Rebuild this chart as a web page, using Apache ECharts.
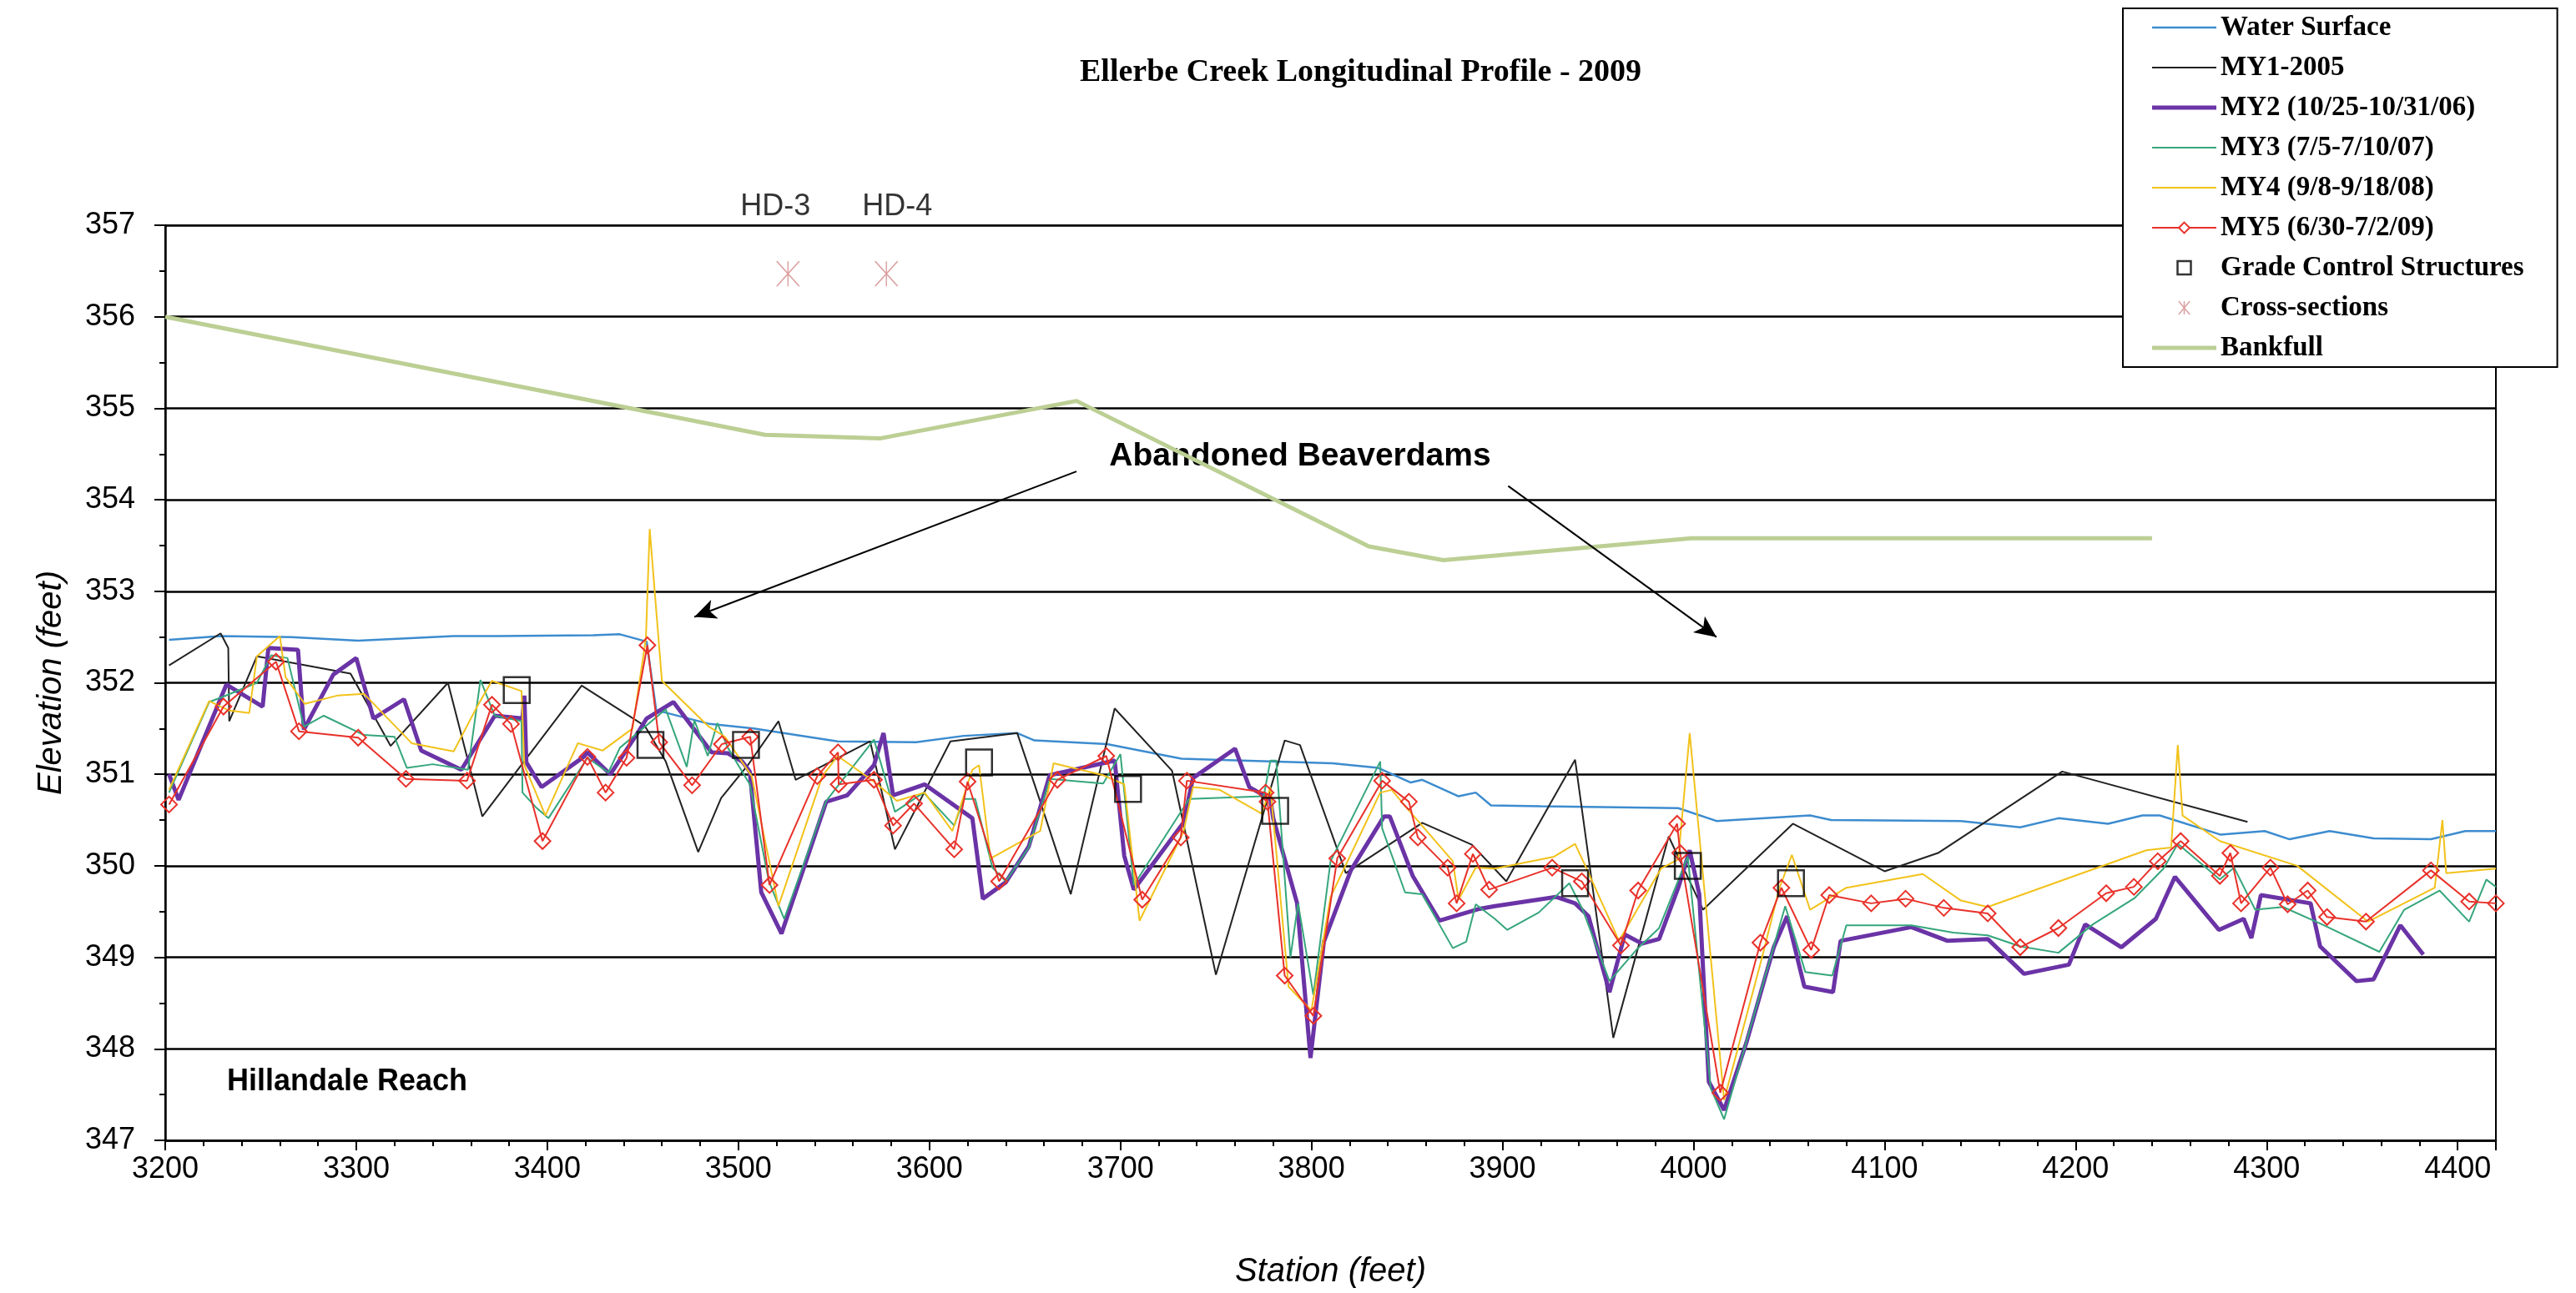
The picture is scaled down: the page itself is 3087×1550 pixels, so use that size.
<!DOCTYPE html>
<html>
<head>
<meta charset="utf-8">
<title>Ellerbe Creek Longitudinal Profile - 2009</title>
<script src="https://cdn.jsdelivr.net/npm/echarts@6.0.0/dist/echarts.min.js"></script>
<style>
  html, body { margin: 0; padding: 0; background: #fff; }
  #main { width: 3087px; height: 1550px; }
</style>
</head>
<body>
<div id="main"></div>
<script>
// station (feet), elevation (feet)
var waterSurface = [
  [3202, 352.47], [3229, 352.51], [3266, 352.50], [3301, 352.46], [3351, 352.51], [3374, 352.51],
  [3424, 352.52], [3438, 352.53], [3452, 352.45], [3457, 351.70], [3485, 351.55], [3508, 351.50],
  [3552, 351.36], [3593, 351.35], [3618, 351.42], [3646, 351.45], [3655, 351.37], [3693, 351.33],
  [3732, 351.17], [3764, 351.15], [3811, 351.12], [3835, 351.07], [3852, 350.91], [3858, 350.94],
  [3877, 350.76], [3886, 350.80], [3894, 350.66], [3920, 350.65], [3992, 350.63], [4012, 350.49],
  [4061, 350.55], [4072, 350.50], [4140, 350.49], [4171, 350.42], [4191, 350.52], [4217, 350.46],
  [4235, 350.55], [4244, 350.55], [4276, 350.34], [4299, 350.38], [4312, 350.29], [4333, 350.38],
  [4356, 350.30], [4386, 350.29], [4404, 350.38], [4420, 350.38]
];

var my1 = [
  [3202, 352.19], [3229, 352.54], [3233, 352.38], [3233.5, 351.58], [3248, 352.29], [3297, 352.10],
  [3318, 351.31], [3348, 352.00], [3366, 350.54], [3418, 351.97], [3451, 351.53], [3462, 351.14],
  [3479, 350.15], [3491, 350.74], [3505, 351.10], [3521, 351.58], [3530, 350.94], [3569, 351.36],
  [3582, 350.18], [3611, 351.36], [3646, 351.45], [3656, 350.83], [3674, 349.69], [3697, 351.72],
  [3727, 351.04], [3750, 348.81], [3786, 351.37], [3794, 351.32], [3818, 349.92], [3858, 350.47],
  [3884, 350.23], [3902, 349.83], [3938, 351.16], [3958, 348.12], [3987, 350.32], [4005, 349.52],
  [4052, 350.46], [4100, 349.94], [4128, 350.14], [4193, 351.03], [4290, 350.48]
];

var my2 = [
  [3202, 351.00], [3207, 350.72], [3232, 351.98], [3251, 351.74], [3254, 352.38], [3269.5, 352.36],
  [3272.6, 351.49], [3288, 352.09], [3300, 352.27], [3309, 351.61], [3325, 351.82], [3334, 351.26],
  [3355, 351.05], [3372.5, 351.64], [3387, 351.61], [3388, 351.86], [3389, 351.13], [3397, 350.86],
  [3419, 351.19], [3421, 351.24], [3433, 351.00], [3446, 351.41], [3452, 351.61], [3466, 351.79],
  [3486, 351.24], [3494.5, 351.23], [3502, 351.14], [3506, 351.03], [3512, 349.71], [3522.6, 349.26],
  [3546, 350.70], [3557, 350.77], [3571, 351.10], [3576, 351.45], [3581, 350.77], [3597.5, 350.89],
  [3622.5, 350.52], [3628, 349.64], [3640, 349.82], [3652, 350.21], [3663, 350.99], [3697, 351.15],
  [3702, 350.11], [3707, 349.74], [3733, 350.47], [3738, 350.96], [3760, 351.28], [3767.5, 350.86],
  [3778.5, 350.73], [3780, 350.52], [3792.5, 349.59], [3799.5, 347.90], [3806.5, 349.17], [3820.6, 349.95],
  [3838, 350.54], [3841, 350.54], [3853, 349.89], [3867, 349.40], [3888, 349.53], [3896, 349.56],
  [3928, 349.66], [3938, 349.59], [3945, 349.45], [3956, 348.62], [3964, 349.25], [3973, 349.15],
  [3982, 349.20], [3992, 349.76], [3998, 350.17], [4003, 349.69], [4008, 347.64], [4016, 347.33],
  [4028, 348.09], [4042, 349.11], [4049, 349.45], [4058, 348.68], [4073, 348.62], [4077, 349.18],
  [4114, 349.33], [4133, 349.18], [4154, 349.20], [4173, 348.82], [4196.5, 348.92], [4205, 349.36],
  [4224, 349.11], [4242, 349.42], [4252, 349.88], [4275, 349.30], [4288, 349.42], [4292, 349.21],
  [4297, 349.68], [4323, 349.59], [4328, 349.12], [4347, 348.74], [4356, 348.76], [4370, 349.35],
  [4382, 349.03]
];

var my3 = [
  [3202, 350.80], [3223, 351.79], [3230.5, 351.85], [3248, 352.00], [3255.5, 352.30], [3264, 352.27],
  [3272.6, 351.52], [3283, 351.64], [3304, 351.43], [3320, 351.41], [3326.5, 351.07], [3340, 351.11],
  [3358.5, 351.05], [3365, 352.03], [3372.5, 351.64], [3386.5, 351.58], [3387, 350.80], [3394, 350.64],
  [3400.6, 350.52], [3421, 351.18], [3432, 351.02], [3438, 351.29], [3462, 351.71], [3473, 351.08],
  [3477, 351.59], [3484, 351.20], [3489, 351.56], [3494.5, 351.29], [3506, 350.89], [3516, 349.83],
  [3524, 349.42], [3546, 350.71], [3571, 351.38], [3582, 350.59], [3597, 350.80], [3613, 350.44],
  [3618, 350.73], [3624, 350.73], [3633, 349.98], [3640, 349.83], [3652, 350.20], [3663, 350.95],
  [3691, 350.90], [3700, 351.22], [3707, 349.79], [3736, 350.73], [3775, 350.76], [3778.5, 351.15],
  [3781.6, 351.15], [3789, 349.00], [3793, 349.59], [3801, 348.59], [3810, 350.05], [3836, 351.14],
  [3837, 350.41], [3849, 349.71], [3858, 349.69], [3874, 349.10], [3881, 349.17], [3886, 349.58],
  [3896, 349.42], [3902.5, 349.30], [3919, 349.49], [3935, 349.81], [3942, 349.52], [3956, 348.74],
  [3970, 349.08], [3982, 349.32], [3997, 350.10], [4009, 347.57], [4016, 347.23], [4048, 349.56],
  [4058.5, 348.84], [4072.6, 348.80], [4080, 349.35], [4114, 349.35], [4136, 349.27], [4154, 349.24],
  [4171, 349.12], [4191, 349.05], [4209, 349.36], [4231, 349.65], [4246, 349.97], [4253.5, 350.24],
  [4275.5, 349.85], [4283, 349.98], [4294, 349.52], [4308.6, 349.55], [4329, 349.36], [4359, 349.06],
  [4372, 349.52], [4390.5, 349.73], [4406, 349.39], [4415, 349.85], [4420, 349.77]
];

var my4 = [
  [3202, 350.83], [3223, 351.80], [3233, 351.70], [3244, 351.67], [3248, 352.29], [3260, 352.51],
  [3263, 352.06], [3273, 351.77], [3290, 351.86], [3304, 351.88], [3329, 351.34], [3351, 351.25],
  [3363, 351.73], [3371, 352.02], [3386.5, 351.91], [3388, 351.10], [3399, 350.55], [3416, 351.34],
  [3429, 351.26], [3444.6, 351.50], [3451.6, 352.48], [3453.6, 353.68], [3460, 352.02], [3484, 351.53],
  [3493, 351.41], [3507, 350.98], [3521, 349.56], [3544, 350.98], [3552, 351.20], [3571, 350.92],
  [3583, 350.71], [3597.5, 350.80], [3612, 350.38], [3622.5, 351.05], [3626, 351.10], [3632, 350.08],
  [3658, 350.38], [3665, 351.12], [3691, 350.99], [3702, 350.89], [3710, 349.40], [3733, 350.37],
  [3738, 350.86], [3752, 350.83], [3774, 350.57], [3778.5, 350.86], [3788, 348.68], [3800, 348.42],
  [3810, 349.66], [3836, 350.80], [3842, 350.83], [3850, 350.63], [3874, 350.05], [3877, 349.63],
  [3886, 349.98], [3896, 349.97], [3927, 350.10], [3938, 350.24], [3944, 349.97], [3961, 349.18],
  [3983, 349.97], [3992, 350.07], [3998, 351.45], [4016, 347.44], [4036, 349.01], [4045, 349.76],
  [4051.5, 350.12], [4061, 349.52], [4080, 349.76], [4120, 349.91], [4140, 349.62], [4154, 349.55],
  [4237, 350.17], [4250, 350.20], [4253.5, 351.32], [4256, 350.55], [4275.5, 350.27], [4316, 350.00],
  [4353, 349.39], [4388, 349.76], [4392, 350.50], [4394, 349.92], [4420, 349.97]
];

var my5 = [
  [3202, 350.67], [3230.5, 351.74], [3258, 352.23], [3270, 351.47], [3301, 351.40], [3326, 350.95],
  [3358, 350.93], [3371, 351.76], [3381, 351.55], [3397.5, 350.27], [3421, 351.19], [3430.5, 350.80],
  [3441.5, 351.18], [3452.4, 352.41], [3458.6, 351.35], [3475.8, 350.88], [3491.4, 351.33], [3506.2, 351.41],
  [3516.3, 349.79], [3541.3, 350.98], [3552.2, 351.24], [3552.5, 350.89], [3571, 350.94], [3581, 350.44],
  [3592, 350.68], [3613, 350.18], [3620, 350.92], [3636.5, 349.83], [3667, 350.94], [3692.6, 351.20],
  [3711.4, 349.63], [3731.6, 350.31], [3734.8, 350.93], [3776, 350.80], [3777, 350.70], [3786, 348.80],
  [3801, 348.36], [3813.5, 350.08], [3837, 350.93], [3851, 350.70], [3855.7, 350.31], [3871.3, 349.98],
  [3876, 349.59], [3884.5, 350.13], [3893, 349.74], [3926, 349.98], [3941.5, 349.83], [3962, 349.13],
  [3971, 349.73], [3991.4, 350.46], [3993, 350.14], [4014, 347.52], [4035, 349.16], [4046, 349.76],
  [4061.6, 349.08], [4071, 349.68], [4093, 349.59], [4111, 349.64], [4131, 349.54], [4154, 349.48],
  [4171, 349.11], [4191, 349.32], [4216, 349.70], [4230.5, 349.77], [4243, 350.05], [4255, 350.27],
  [4275.5, 349.89], [4281, 350.14], [4286.6, 349.59], [4302, 349.98], [4311, 349.58], [4321.5, 349.73],
  [4331.6, 349.44], [4352, 349.39], [4386, 349.95], [4406, 349.61], [4420, 349.59]
];

var gradeControl = [
  [3384, 351.92], [3454, 351.32], [3504, 351.32], [3626, 351.13], [3704, 350.84],
  [3781, 350.60], [3938, 349.81], [3997, 350.00], [4051, 349.81]
];

var crossSections = [[3526, 356.47], [3577.5, 356.47]];
var crossLabels = ['HD-3', 'HD-4'];

var bankfull = [
  [3200, 356.00], [3514, 354.71], [3574, 354.67], [3677, 355.08],
  [3830, 353.49], [3869, 353.34], [3999, 353.58], [4240, 353.58]
];

// arrows for the beaverdam note: [from, to]
var beaverdamArrows = [
  [[3677, 354.31], [3477, 352.72]],
  [[3903, 354.15], [4012, 352.50]]
];

var names = [
  'Water Surface', 'MY1-2005', 'MY2 (10/25-10/31/06)', 'MY3 (7/5-7/10/07)', 'MY4 (9/8-9/18/08)',
  'MY5 (6/30-7/2/09)', 'Grade Control Structures', 'Cross-sections', 'Bankfull'
];

var SANS = 'Liberation Sans, Arial, sans-serif';
var SERIF = 'Liberation Serif, Times New Roman, serif';
var STAR = 'path://M0,0L10,12M10,0L0,12M5,0L5,12';
var SQUARE = 'path://M0,0L10,0L10,10L0,10Z';
var RED = '#e8312a';
var PINK = '#d28888';
var colors = ['#3d8ccf', '#222222', '#6a33a6', '#36a67c', '#f2c21b', RED, '#000', PINK, '#bccf94'];

// flat bar used as a plain line icon in the legend
function lineIcon(h) {
  return 'path://M0,0L77,0L77,' + h + 'L0,' + h + 'Z';
}

function lineSeries(name, data, color, width, z) {
  return {
    name: name,
    type: 'line',
    data: data,
    symbol: 'none',
    z: z,
    lineStyle: { color: color, width: width },
    itemStyle: { color: color },
    silent: true
  };
}

var chartDom = document.getElementById('main');
var myChart = echarts.init(chartDom, null, { renderer: 'canvas' });
var option;

option = {
  animation: false,
  backgroundColor: '#fff',
  title: {
    text: 'Ellerbe Creek Longitudinal Profile - 2009',
    left: 1294,
    top: 68,
    padding: 0,
    textStyle: { fontFamily: SERIF, fontWeight: 'bold', fontSize: 38, color: '#000' }
  },
  legend: {
    orient: 'vertical',
    left: 2544,
    top: 10,
    padding: [5, 40, 5, 34],
    itemWidth: 77,
    itemHeight: 16,
    itemGap: 12,
    borderColor: '#000',
    borderWidth: 2,
    backgroundColor: '#fff',
    selectedMode: false,
    textStyle: { fontFamily: SERIF, fontWeight: 'bold', fontSize: 33, lineHeight: 36, color: '#000' },
    data: [
      { name: names[0], icon: lineIcon(2.5), itemStyle: { color: colors[0], borderWidth: 0 } },
      { name: names[1], icon: lineIcon(2), itemStyle: { color: colors[1], borderWidth: 0 } },
      { name: names[2], icon: lineIcon(5), itemStyle: { color: colors[2], borderWidth: 0 } },
      { name: names[3], icon: lineIcon(2), itemStyle: { color: colors[3], borderWidth: 0 } },
      { name: names[4], icon: lineIcon(2), itemStyle: { color: colors[4], borderWidth: 0 } },
      { name: names[5], lineStyle: { width: 2, color: RED }, itemStyle: { color: '#fff', borderColor: RED, borderWidth: 2 } },
      { name: names[6], icon: SQUARE, itemStyle: { color: 'rgba(0,0,0,0)', borderColor: '#000', borderWidth: 2.5 } },
      { name: names[7], icon: STAR, itemStyle: { color: 'rgba(0,0,0,0)', borderColor: PINK, borderWidth: 1.5 } },
      { name: names[8], icon: lineIcon(5), itemStyle: { color: colors[8], borderWidth: 0 } }
    ]
  },
  grid: {
    left: 198,
    right: 96,
    top: 270,
    bottom: 182,
    show: true,
    borderColor: '#000',
    borderWidth: 2,
    backgroundColor: 'rgba(0,0,0,0)'
  },
  xAxis: {
    type: 'value',
    min: 3200,
    max: 4420,
    interval: 100,
    name: 'Station (feet)',
    nameLocation: 'middle',
    nameGap: 138,
    nameTextStyle: { fontFamily: SANS, fontStyle: 'italic', fontSize: 40, color: '#000' },
    axisLine: { show: true, onZero: false, lineStyle: { color: '#000', width: 2.5 } },
    axisTick: { show: true, length: 12, lineStyle: { color: '#000', width: 2 } },
    minorTick: { show: true, splitNumber: 5, length: 7, lineStyle: { color: '#000', width: 2 } },
    splitLine: { show: false },
    axisLabel: {
      showMaxLabel: false,
      margin: 17,
      fontFamily: SANS,
      fontSize: 36,
      color: '#000',
      formatter: function (v) { return String(v); }
    }
  },
  yAxis: {
    type: 'value',
    min: 347,
    max: 357,
    interval: 1,
    name: 'Elevation (feet)',
    nameLocation: 'middle',
    nameGap: 116,
    nameTextStyle: { fontFamily: SANS, fontStyle: 'italic', fontSize: 40, color: '#000' },
    axisLine: { show: true, lineStyle: { color: '#000', width: 2.5 } },
    axisTick: { show: true, length: 13, lineStyle: { color: '#000', width: 2 } },
    minorTick: { show: true, splitNumber: 2, length: 7, lineStyle: { color: '#000', width: 2 } },
    splitLine: { show: true, lineStyle: { color: '#000', width: 2.5 } },
    axisLabel: { margin: 36, fontFamily: SANS, fontSize: 36, color: '#000' }
  },
  graphic: [
    {
      type: 'text',
      x: 1558,
      y: 547,
      style: {
        text: 'Abandoned Beaverdams',
        font: 'bold 39px ' + SANS,
        fill: '#000',
        align: 'center',
        verticalAlign: 'middle',
        textAlign: 'center',
        textVerticalAlign: 'middle'
      }
    },
    {
      type: 'text',
      x: 272,
      y: 1297,
      style: {
        text: 'Hillandale Reach',
        font: 'bold 36px ' + SANS,
        fill: '#000',
        align: 'left',
        verticalAlign: 'middle',
        textAlign: 'left',
        textVerticalAlign: 'middle'
      }
    }
  ],
  series: [
    lineSeries(names[0], waterSurface, colors[0], 2.5, 2),
    lineSeries(names[1], my1, colors[1], 2, 2),
    lineSeries(names[2], my2, colors[2], 5, 2),
    lineSeries(names[3], my3, colors[3], 2, 2),
    lineSeries(names[4], my4, colors[4], 2, 2),
    {
      name: names[5],
      type: 'line',
      data: my5,
      symbol: 'diamond',
      symbolSize: 19,
      showAllSymbol: true,
      z: 3,
      silent: true,
      lineStyle: { color: RED, width: 2 },
      itemStyle: { color: 'rgba(0,0,0,0)', borderColor: RED, borderWidth: 2 }
    },
    {
      name: names[6],
      type: 'scatter',
      data: gradeControl,
      symbol: 'rect',
      symbolSize: 31,
      z: 4,
      silent: true,
      itemStyle: { color: 'rgba(0,0,0,0)', borderColor: '#000', borderWidth: 2.5 }
    },
    {
      name: names[7],
      type: 'scatter',
      data: crossSections.map(function (d, i) {
        return {
          value: d,
          name: crossLabels[i],
          label: { offset: [i === 0 ? -15 : 13, 0] }
        };
      }),
      symbol: STAR,
      symbolSize: [27, 30],
      z: 4,
      silent: true,
      itemStyle: { color: 'rgba(0,0,0,0)', borderColor: PINK, borderWidth: 1.5 },
      label: {
        show: true,
        position: 'top',
        distance: 46,
        formatter: '{b}',
        fontFamily: SANS,
        fontSize: 36,
        color: '#000'
      }
    },
    {
      name: names[8],
      type: 'line',
      data: bankfull,
      symbol: 'none',
      z: 2,
      silent: true,
      lineStyle: { color: colors[8], width: 5 },
      itemStyle: { color: colors[8] },
      markLine: {
        silent: true,
        symbol: ['none', 'arrow'],
        symbolSize: [18, 26],
        label: { show: false },
        lineStyle: { color: '#000', width: 2, type: 'solid' },
        data: beaverdamArrows.map(function (a) {
          return [{ coord: a[0] }, { coord: a[1] }];
        })
      }
    }
  ]
};

option && myChart.setOption(option);
</script>
</body>
</html>
